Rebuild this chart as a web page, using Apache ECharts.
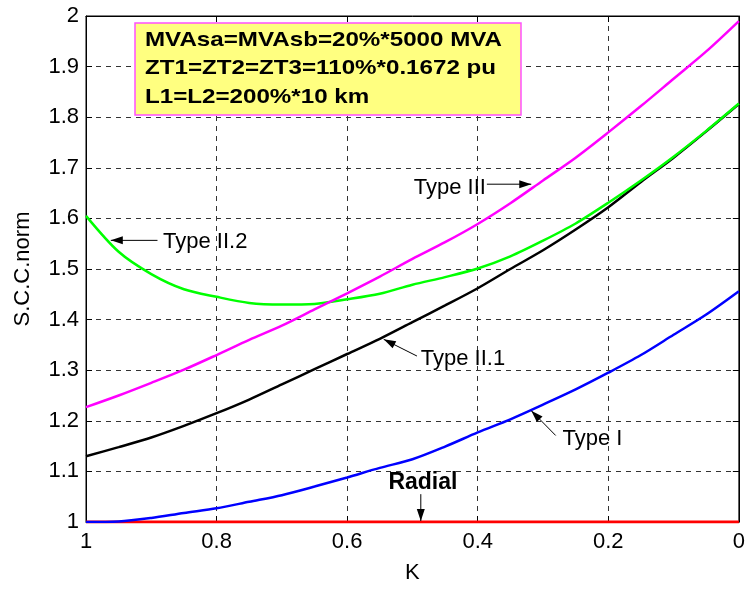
<!DOCTYPE html>
<html>
<head>
<meta charset="utf-8">
<script src="https://cdn.jsdelivr.net/npm/echarts@6/dist/echarts.min.js"></script>
<style>
  html, body { margin: 0; padding: 0; background: #fff; }
  #chart { width: 748px; height: 589px; }
</style>
</head>
<body>
<div id="chart"></div>
<script>
// K from 1 down to 0
const kValues = [1, 0.95, 0.9, 0.85, 0.8, 0.75, 0.7, 0.65, 0.6, 0.55, 0.5,
                 0.45, 0.4, 0.35, 0.3, 0.25, 0.2, 0.15, 0.1, 0.05, 0];

const radial   = [1, 1, 1, 1, 1, 1, 1, 1, 1, 1, 1, 1, 1, 1, 1, 1, 1, 1, 1, 1, 1];
const typeI    = [1.000, 1.001, 1.008, 1.018, 1.027, 1.040, 1.053, 1.070, 1.088, 1.107, 1.124,
                  1.149, 1.177, 1.203, 1.232, 1.262, 1.295, 1.330, 1.370, 1.410, 1.456];
const typeII1  = [1.130, 1.148, 1.167, 1.190, 1.215, 1.242, 1.272, 1.302, 1.332, 1.362, 1.395,
                  1.428, 1.462, 1.500, 1.537, 1.578, 1.622, 1.672, 1.720, 1.772, 1.826];
const typeII2  = [1.605, 1.534, 1.490, 1.460, 1.445, 1.433, 1.430, 1.431, 1.440, 1.451, 1.469,
                  1.484, 1.501, 1.525, 1.556, 1.590, 1.631, 1.675, 1.722, 1.773, 1.827];
const typeIII  = [1.227, 1.250, 1.275, 1.301, 1.330, 1.360, 1.388, 1.420, 1.452, 1.485, 1.520,
                  1.553, 1.589, 1.630, 1.675, 1.720, 1.770, 1.822, 1.876, 1.930, 1.990];

const xTicks = [0, 0.2, 0.4, 0.6, 0.8, 1];
const yTicks = [1, 1.1, 1.2, 1.3, 1.4, 1.5, 1.6, 1.7, 1.8, 1.9, 2];

const infoLines = [
  'MVAsa=MVAsb=20%*5000 MVA',
  'ZT1=ZT2=ZT3=110%*0.1672 pu',
  'L1=L2=200%*10 km'
];

// Curve labels: text anchor and arrow (from -> to), in [K, S.C.C.norm]
const curveNotes = [
  { text: 'Type II.2', at: [0.882, 1.553], align: 'left',  from: [0.8905, 1.5566], to: [0.962, 1.5566] },
  { text: 'Type III',  at: [0.3875, 1.661], align: 'right', from: [0.386, 1.6676],  to: [0.318, 1.6676] },
  { text: 'Type II.1', at: [0.4873, 1.3228], align: 'left', from: [0.4931, 1.328],  to: [0.544, 1.361] },
  { text: 'Type I',    at: [0.2702, 1.165], align: 'left',  from: [0.2806, 1.171],  to: [0.318, 1.220] },
  { text: 'Radial',    at: [0.484, 1.0786], align: 'center', bold: true, from: [0.4872, 1.055], to: [0.4872, 1.002] }
];

const FONT = 'Liberation Sans, Arial, sans-serif';

function pairs(ys) { return kValues.map((k, i) => [k, ys[i]]); }

const chart = echarts.init(document.getElementById('chart'), null, { renderer: 'canvas' });

const gridLine = { show: true, lineStyle: { color: '#333', type: [5, 5], width: 1 } };

const option = {
  animation: false,
  backgroundColor: '#fff',
  grid: { left: 86, right: 7, top: 16, bottom: 64, show: true, borderColor: '#000', borderWidth: 1, backgroundColor: '#fff' },
  xAxis: [{
    type: 'value', min: 0, max: 1, interval: 0.2, inverse: true,
    name: 'K', nameLocation: 'middle', nameGap: 40,
    nameTextStyle: { fontFamily: FONT, fontSize: 22, color: '#000' },
    axisLine: { show: true, onZero: false, lineStyle: { color: '#000', width: 1 } },
    axisTick: { show: true, inside: true, length: 6, lineStyle: { color: '#000' } },
    axisLabel: { fontFamily: FONT, fontSize: 22, color: '#000', margin: 9,
                 formatter: v => String(xTicks.find(t => Math.abs(t - v) < 1e-9) ?? v) },
    splitLine: gridLine
  }, {
    type: 'value', min: 0, max: 1, interval: 0.2, inverse: true, position: 'top',
    axisLine: { show: true, lineStyle: { color: '#000' } },
    axisTick: { show: true, inside: true, length: 6, lineStyle: { color: '#000' } },
    axisLabel: { show: false }, splitLine: { show: false }
  }],
  yAxis: [{
    type: 'value', min: 1, max: 2, interval: 0.1,
    name: 'S.C.C.norm', nameLocation: 'middle', nameGap: 52, nameRotate: 90,
    nameTextStyle: { fontFamily: FONT, fontSize: 22, color: '#000' },
    axisLine: { show: true, onZero: false, lineStyle: { color: '#000', width: 1 } },
    axisTick: { show: true, inside: true, length: 6, lineStyle: { color: '#000' } },
    axisLabel: { fontFamily: FONT, fontSize: 22, color: '#000', margin: 7,
                 formatter: v => String(yTicks.find(t => Math.abs(t - v) < 1e-9) ?? v) },
    splitLine: gridLine
  }, {
    type: 'value', min: 1, max: 2, interval: 0.1, position: 'right',
    axisLine: { show: true, lineStyle: { color: '#000' } },
    axisTick: { show: true, inside: true, length: 6, lineStyle: { color: '#000' } },
    axisLabel: { show: false }, splitLine: { show: false }
  }],
  series: [
    { name: 'Radial',    type: 'line', data: pairs(radial),  symbol: 'none', lineStyle: { color: '#ff0000', width: 3 }, z: 3 },
    { name: 'Type I',    type: 'line', data: pairs(typeI),   symbol: 'none', smooth: 0.3, lineStyle: { color: '#0000ff', width: 2.5 } },
    { name: 'Type II.1', type: 'line', data: pairs(typeII1), symbol: 'none', smooth: 0.3, lineStyle: { color: '#000000', width: 2.5 } },
    { name: 'Type II.2', type: 'line', data: pairs(typeII2), symbol: 'none', smooth: 0.3, lineStyle: { color: '#00ff00', width: 2.5 } },
    { name: 'Type III',  type: 'line', data: pairs(typeIII), symbol: 'none', smooth: 0.3, lineStyle: { color: '#ff00ff', width: 2.5 } }
  ]
};

chart.setOption(option);

// Annotations: arrows, curve names and the parameter box
function arrowHead(p, q, len, half) {
  const dx = q[0] - p[0], dy = q[1] - p[1];
  const d = Math.hypot(dx, dy) || 1;
  const ux = dx / d, uy = dy / d;
  const bx = q[0] - ux * len, by = q[1] - uy * len;
  return [q, [bx - uy * half, by + ux * half], [bx + uy * half, by - ux * half]];
}

const graphics = [];
curveNotes.forEach(n => {
  const a = chart.convertToPixel({ gridIndex: 0 }, n.at);
  const p = chart.convertToPixel({ gridIndex: 0 }, n.from);
  const q = chart.convertToPixel({ gridIndex: 0 }, n.to);
  graphics.push({
    type: 'line', silent: true, z: 20,
    shape: { x1: p[0], y1: p[1], x2: q[0], y2: q[1] },
    style: { stroke: '#000', lineWidth: 1 }
  });
  graphics.push({
    type: 'polygon', silent: true, z: 20,
    shape: { points: arrowHead(p, q, 12, 4) },
    style: { fill: '#000' }
  });
  graphics.push({
    type: 'text', silent: true, z: 21,
    x: a[0], y: a[1],
    style: {
      text: n.text, fill: '#000',
      font: n.bold ? 'bold 23px ' + FONT : '22px ' + FONT,
      align: n.align, verticalAlign: 'middle'
    }
  });
});

graphics.push({
  type: 'group', z: 30,
  children: [
    { type: 'rect', shape: { x: 135, y: 23, width: 386, height: 92 },
      style: { fill: '#ffff80', stroke: '#ff50ff', lineWidth: 1.5 } },
    ...infoLines.map((t, i) => ({
      type: 'text', x: 145, y: 40 + i * 28.5, scaleX: 1.15,
      style: { text: t, fill: '#000', font: 'bold 21px ' + FONT, verticalAlign: 'middle' }
    }))
  ]
});

chart.setOption({ graphic: graphics });
</script>
</body>
</html>
